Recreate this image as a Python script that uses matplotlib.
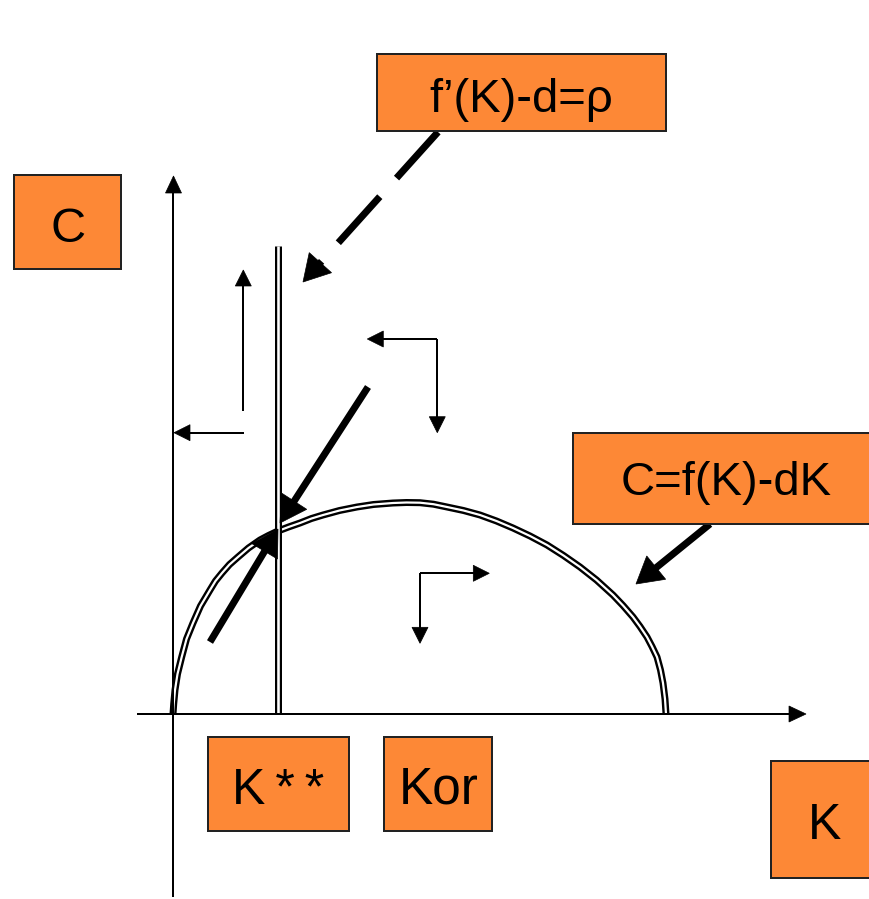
import numpy as np
import matplotlib
matplotlib.use("Agg")
import matplotlib.pyplot as plt
from matplotlib.patches import Rectangle, Polygon

# ---------------- data (diagram units: K to the right, C upward) ----------------
curve_K = [-0.5, 0.2, 1.5, 4.0, 8.2, 13.0, 19.5, 27.0, 36.5, 42.0, 48.5, 56.0, 64.5,
           75.0, 86.5, 95.0, 104.5, 115.0, 126.5, 138.0, 149.5, 166.0, 183.5, 200.0,
           219.5, 233.0, 246.5, 260.0, 273.5, 290.0, 306.5, 323.0, 339.5, 356.5,
           373.5, 390.0, 406.5, 423.0, 439.5, 449.5, 459.5, 466.5, 473.5, 478.5,
           483.5, 487.0, 489.5, 491.5, 492.5]
curve_C = [0, 10, 24, 40, 57, 75, 91, 108, 124, 133, 141, 149.5, 157,
           166, 174, 178.5, 183, 187, 191, 195.5, 199, 203.5, 207, 209.5,
           211, 211.5, 211.3, 209.8, 207, 203.5, 199, 193, 186, 178,
           169, 158.5, 147, 134, 119, 108.5, 97, 87.5, 77, 67.5,
           57, 44, 31, 15, 0]

k_star = 105          # f'(K)-d = rho  (vertical locus)
locus_C = [0, 468]

K_axis = [-36.5, 632.5]
C_axis = [-183, 538]

# thin direction arrows: (tail, tip)
thin_arrows = [
    ((69.8, 303), (69.8, 444)),
    ((70.5, 281.3), (0.5, 281.3)),
    ((263.8, 375), (193.8, 375)),
    ((263.8, 375), (263.8, 281.3)),
    ((246.5, 140.7), (315.8, 140.7)),
    ((246.5, 140.7), (246.5, 70.7)),
]
# thick arrows: (tail, tip, dashed)
thick_arrows = [
    ((36.5, 72), (104.5, 185), False),
    ((194.5, 327), (106.5, 191), False),
    ((264.5, 582), (129.5, 432), True),
    ((536.5, 190), (462.5, 130), False),
]

# label boxes: (left, bottom, width, height), text, (center x, baseline), size
boxes = [
    ((203.8, 583.3, 288.7, 76.7), "f\u2019(K)-d=\u03c1", (347.3, 602.3), 34),
    ((-159.5, 444.7, 106.7, 94.3), "C", (-105.2, 471.7), 35),
    ((399.8, 190.0, 320.0, 90.7), "C=f(K)-dK", (552.3, 219.0), 34),
    ((34.8, -117.0, 141.0, 93.7), "K\u2009*\u2009*", (104.3, -90.0), 36),
    ((210.8, -117.0, 107.4, 93.7), "Kor", (265.3, -90.0), 37),
    ((597.5, -164.3, 130.0, 117.6), "K", (651.5, -125.3), 36),
]

ORANGE = "#FD8836"
PT = 0.72  # points per pixel at dpi 100

fig = plt.figure(figsize=(8.7, 8.99), dpi=100)
ax = fig.add_axes([0, 0, 1, 1])
ax.set_xlim(-173.5, 696.5)
ax.set_ylim(-185, 714)
ax.axis("off")


def arrow(tail, tip, lw_px, hl, hw, dashed=False, z=3):
    tail = np.array(tail, float)
    tip = np.array(tip, float)
    d = tip - tail
    u = d / np.hypot(*d)
    n = np.array([-u[1], u[0]])
    base = tip - u * hl
    end = base + u * 1.5
    kw = dict(color="black", lw=lw_px * PT, solid_capstyle="butt",
              dash_capstyle="butt", zorder=z)
    if dashed:
        ax.plot([tail[0], end[0]], [tail[1], end[1]],
                dashes=(62 / lw_px, 25 / lw_px), **kw)
    else:
        ax.plot([tail[0], end[0]], [tail[1], end[1]], **kw)
    tri = np.array([tip, base + n * hw / 2, base - n * hw / 2])
    ax.add_patch(Polygon(tri, closed=True, facecolor="black",
                         edgecolor="black", lw=0.5, zorder=z))


# axes
arrow((0, C_axis[0]), (0, C_axis[1]), 2.0, 17, 16)
arrow((K_axis[0], 0), (K_axis[1], 0), 2.0, 17, 16)

# double-lined curve C = f(K) - dK
ax.plot(curve_K, curve_C, color="black", lw=7.0 * PT, solid_capstyle="butt",
        solid_joinstyle="round", zorder=2)
ax.plot(curve_K, curve_C, color="white", lw=2.2 * PT, solid_capstyle="butt",
        solid_joinstyle="round", zorder=2.1)

# double-lined vertical locus
ax.plot([k_star, k_star], locus_C, color="black", lw=7.0 * PT,
        solid_capstyle="butt", zorder=2.2)
ax.plot([k_star, k_star], locus_C, color="white", lw=2.6 * PT,
        solid_capstyle="butt", zorder=2.3)

for tail, tip in thin_arrows:
    arrow(tail, tip, 2.0, 16, 16)

for tail, tip, dashed in thick_arrows:
    arrow(tail, tip, 7.0, 26, 30, dashed=dashed, z=4)

for (x0, y0, w, h), label, (tx, ty), fs in boxes:
    ax.add_patch(Rectangle((x0, y0), w, h, facecolor=ORANGE,
                           edgecolor="#222222", lw=2.0 * PT, zorder=5))
    ax.text(tx, ty, label, ha="center", va="baseline", fontsize=fs,
            family=["Liberation Sans", "DejaVu Sans"], color="black", zorder=6)

fig.savefig("out.png", dpi=100, facecolor="white")
